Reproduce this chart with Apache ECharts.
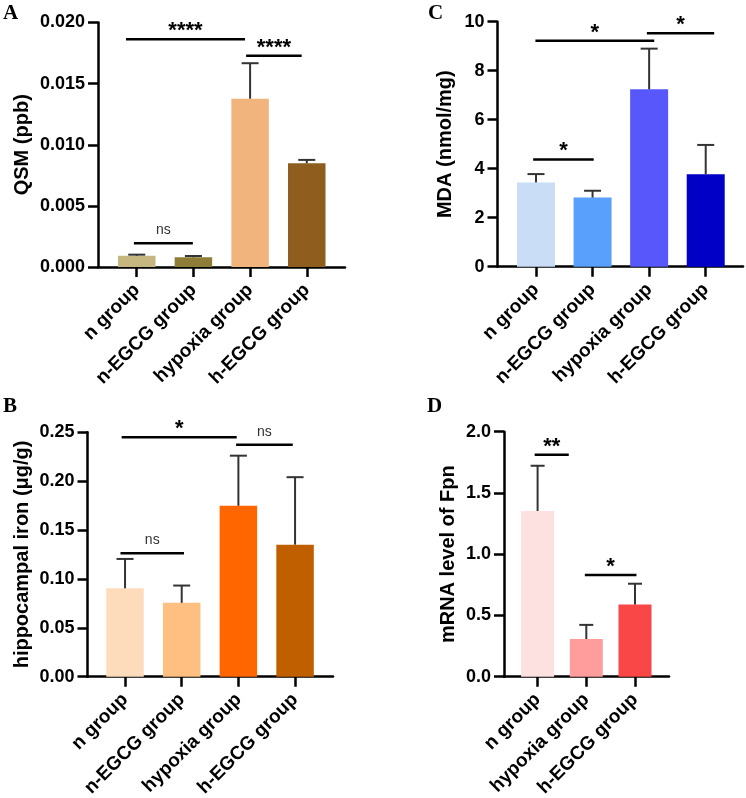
<!DOCTYPE html>
<html><head><meta charset="utf-8">
<script src="https://cdn.jsdelivr.net/npm/echarts@6/dist/echarts.min.js"></script>
<style>html,body{margin:0;padding:0;background:#fff}#c{width:746px;height:798px}</style>
</head><body><div id="c"></div>
<script>
// ---- Data ----
const catsA = ['n group', 'n-EGCG group', 'hypoxia group', 'h-EGCG group'];
const meanA = [0.00092, 0.00079, 0.01377, 0.00849];
const sdA   = [0.00009, 0.00011, 0.0029, 0.00027];
const ticksA = [0, 0.005, 0.010, 0.015, 0.020];
// significance: [from (category units), to, level, label]
const sigA = [[-0.19, 1.91, 0.01863, '****'], [1.93, 2.91, 0.01727, '****'], [-0.05, 0.99, 0.00194, 'ns']];

const catsB = ['n group', 'n-EGCG group', 'hypoxia group', 'h-EGCG group'];
const meanB = [0.0904, 0.0755, 0.1748, 0.135];
const sdB   = [0.030, 0.0177, 0.0512, 0.069];
const ticksB = [0, 0.05, 0.10, 0.15, 0.20, 0.25];
const sigB = [[-0.06, 1.97, 0.2448, '*'], [1.96, 2.96, 0.2372, 'ns'], [-0.08, 1.04, 0.1262, 'ns']];

const catsC = ['n group', 'n-EGCG group', 'hypoxia group', 'h-EGCG group'];
const meanC = [3.44, 2.82, 7.24, 3.77];
const sdC   = [0.34, 0.28, 1.66, 1.20];
const ticksC = [0, 2, 4, 6, 8, 10];
const sigC = [[-0.01, 2.09, 9.22, '*'], [1.96, 3.15, 9.53, '*'], [-0.05, 1.02, 4.38, '*']];

const catsD = ['n group', 'hypoxia group', 'h-EGCG group'];
const meanD = [1.353, 0.308, 0.589];
const sdD   = [0.369, 0.115, 0.170];
const ticksD = [0, 0.5, 1.0, 1.5, 2.0];
const sigD = [[-0.06, 0.64, 1.812, '**'], [0.97, 2.03, 0.830, '*']];

// ---- Styles ----
const colorsA = ['#c5b77f', '#8e7d37', '#f0b47c', '#8f5e1f'];
const colorsB = ['#fddcbc', '#ffbf80', '#ff6600', '#c05f00'];
const colorsC = ['#c9ddf7', '#58a0fc', '#5757fb', '#0000c6'];
const colorsD = ['#fde0e0', '#ff9d9d', '#f94646'];

const SANS = '"Liberation Sans", Arial, Helvetica, sans-serif';
const SERIF = '"Liberation Serif", "Times New Roman", serif';

const panels = [
  {letter:'A', lx:3, ly:3, cats:catsA, means:meanA, sds:sdA, ticks:ticksA, sig:sigA, colors:colorsA, dec:3, title:'QSM (ppb)',
   axisLeft:98, axisTop:22.5, axisW:247, axisH:244.5, barLeft:108.4, barW:226.7, barWidth:37.5, capW:17, nameGap:66},
  {letter:'B', lx:3, ly:396, cats:catsB, means:meanB, sds:sdB, ticks:ticksB, sig:sigB, colors:colorsB, dec:2, title:'hippocampal iron (\u03bcg/g)',
   axisLeft:87.5, axisTop:432.2, axisW:245.5, axisH:244.5, barLeft:96.7, barW:226.7, barWidth:37.5, capW:17, nameGap:55},
  {letter:'C', lx:428, ly:3, cats:catsC, means:meanC, sds:sdC, ticks:ticksC, sig:sigC, colors:colorsC, dec:0, title:'MDA (nmol/mg)',
   axisLeft:497.5, axisTop:21.7, axisW:245.5, axisH:245, barLeft:507.7, barW:226.3, barWidth:38, capW:17, nameGap:42},
  {letter:'D', lx:427, ly:396, cats:catsD, means:meanD, sds:sdD, ticks:ticksD, sig:sigD, colors:colorsD, dec:1, title:'mRNA level of Fpn',
   axisLeft:504, axisTop:431.7, axisW:165, axisH:245, barLeft:513.25, barW:146.1, barWidth:33, capW:14, nameGap:45.5}
];

const grid = [], xAxis = [], yAxis = [], series = [], graphic = [];
const black = {color:'#000', width:2.5};

function errRender(p) {
  return function (params, api) {
    const i = params.dataIndex;
    const m = api.value(1), s = api.value(2);
    const b = api.coord([i, m]);
    const t = api.coord([i, m + s]);
    const st = {stroke:'#333', lineWidth:2};
    return {type:'group', children:[
      {type:'line', shape:{x1:b[0], y1:b[1], x2:t[0], y2:t[1]}, style:st},
      {type:'line', shape:{x1:t[0] - p.capW / 2, y1:t[1], x2:t[0] + p.capW / 2, y2:t[1]}, style:st}
    ]};
  };
}
function sigRender(p) {
  return function (params, api) {
    const s = p.sig[params.dataIndex];
    const p0 = api.coord([0, s[2]]);
    const band = api.size([1, 0])[0];
    const x1 = p0[0] + s[0] * band, x2 = p0[0] + s[1] * band, y = p0[1];
    const isStar = s[3] !== 'ns';
    return {type:'group', children:[
      {type:'line', shape:{x1:x1, y1:y, x2:x2, y2:y}, style:{stroke:'#000', lineWidth:2.5}},
      {type:'text', x:(x1 + x2) / 2, y: y - (isStar ? 8 : 13),
       style:{text:s[3], font: isStar ? 'bold 22px ' + SANS : '14px ' + SANS, fill: isStar ? '#000' : '#333',
              align:'center', verticalAlign:'middle'}}
    ]};
  };
}

panels.forEach(function (p, k) {
  const ga = 2 * k, gb = 2 * k + 1;
  const ymax = p.ticks[p.ticks.length - 1];
  const step = p.ticks[1] - p.ticks[0];
  grid.push({left:p.axisLeft, top:p.axisTop, width:p.axisW, height:p.axisH, containLabel:false, outerBoundsMode:'none'});
  grid.push({left:p.barLeft, top:p.axisTop, width:p.barW, height:p.axisH, containLabel:false, outerBoundsMode:'none'});
  xAxis.push({gridIndex:ga, type:'value', min:0, max:1,
    axisLine:{show:true, onZero:false, lineStyle:black}, axisTick:{show:false}, axisLabel:{show:false}, splitLine:{show:false}});
  yAxis.push({gridIndex:ga, type:'value', min:0, max:ymax, interval:step,
    axisLine:{show:true, onZero:false, lineStyle:black},
    axisTick:{show:true, length:10, lineStyle:black},
    axisLabel:{fontSize:18, fontWeight:'bold', color:'#000', fontFamily:SANS, margin:13,
      formatter:function (v) { return v.toFixed(p.dec); }},
    splitLine:{show:false},
    name:p.title, nameLocation:'middle', nameRotate:90, nameGap:p.nameGap,
    nameTextStyle:{fontSize:20, fontWeight:'bold', color:'#000', fontFamily:SANS}});
  xAxis.push({gridIndex:gb, type:'category', data:p.cats,
    axisLine:{show:true, lineStyle:{color:'rgba(0,0,0,0)', width:0}},
    axisTick:{show:true, alignWithLabel:true, length:10, lineStyle:black},
    axisLabel:{interval:0, rotate:45, fontSize:19, fontWeight:'bold', color:'#000', fontFamily:SANS, margin:20},
    splitLine:{show:false}});
  yAxis.push({gridIndex:gb, type:'value', min:0, max:ymax, show:false});

  series.push({type:'bar', xAxisIndex:gb, yAxisIndex:gb, barWidth:p.barWidth, z:2,
    data:p.means.map(function (m, i) { return {value:m, itemStyle:{color:p.colors[i]}}; })});
  series.push({type:'custom', xAxisIndex:gb, yAxisIndex:gb, z:3, clip:false,
    data:p.means.map(function (m, i) { return [i, m, p.sds[i]]; }), renderItem:errRender(p)});
  series.push({type:'custom', xAxisIndex:gb, yAxisIndex:gb, z:4, clip:false,
    data:p.sig.map(function (s) { return [0, s[2]]; }), renderItem:sigRender(p)});
  graphic.push({type:'text', left:p.lx, top:p.ly, style:{text:p.letter, font:'bold 21px ' + SERIF, fill:'#000'}});
});

const chart = echarts.init(document.getElementById('c'), null, {renderer:'canvas'});
chart.setOption({animation:false, backgroundColor:'#fff', grid:grid, xAxis:xAxis, yAxis:yAxis, series:series, graphic:graphic});
</script>
</body></html>
